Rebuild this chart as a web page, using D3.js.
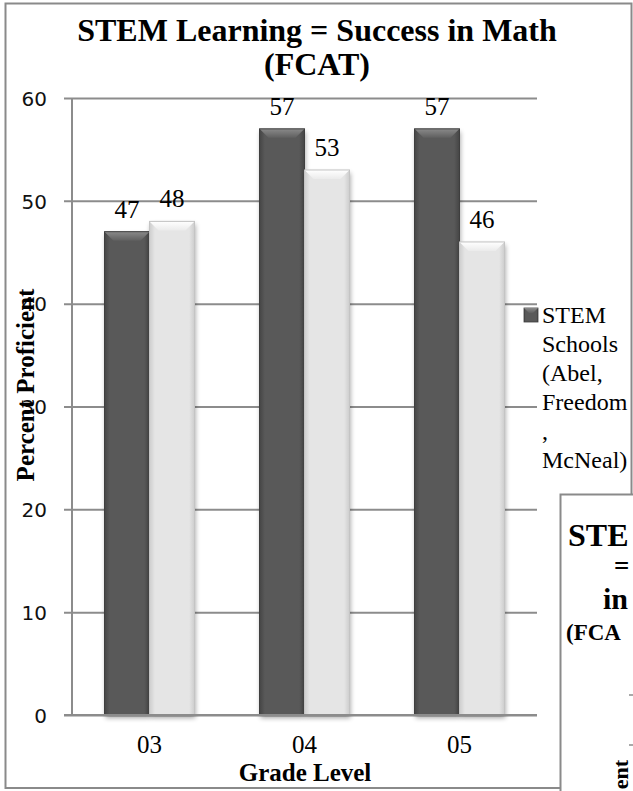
<!DOCTYPE html>
<html>
<head>
<meta charset="utf-8">
<script src="https://cdn.jsdelivr.net/npm/d3@7/dist/d3.min.js"></script>
<style>
  html, body { margin: 0; padding: 0; background: #fff; }
  svg { display: block; }
</style>
</head>
<body>
<div id="chart"></div>
<script>
// Grade-level math proficiency (FCAT), percent proficient
const categories = ["03", "04", "05"];
const seriesNames = ["STEM Schools (Abel, Freedom, McNeal)", "Comparison"];
const stemSchools = [47, 57, 57];
const otherSchools = [48, 53, 46];
const yTicks = [0, 10, 20, 30, 40, 50, 60];
const titleLines = ["STEM Learning = Success in Math", "(FCAT)"];
const xTitle = "Grade Level";
const yTitle = "Percent Proficient";
const legendLines = ["STEM", "Schools", "(Abel,", "Freedom", ",", "McNeal)"];
// the companion chart in the lower-right corner only shows these pieces
const sideTitlePieces = ["STE", "=", "in", "(FCA"];
const sideAxisPiece = "ent";

const SERIF = '"Liberation Serif", "Times New Roman", serif';
const SANS = '"DejaVu Sans", sans-serif';

const W = 633, H = 791;
const svg = d3.select("#chart").append("svg")
  .attr("width", W).attr("height", H);

const defs = svg.append("defs");

// horizontal shading across each bar face
function hGrad(id, edge, mid) {
  const g = defs.append("linearGradient").attr("id", id)
    .attr("x1", "0%").attr("x2", "100%").attr("y1", "0%").attr("y2", "0%");
  g.append("stop").attr("offset", "0%").attr("stop-color", edge);
  g.append("stop").attr("offset", "12%").attr("stop-color", mid);
  g.append("stop").attr("offset", "88%").attr("stop-color", mid);
  g.append("stop").attr("offset", "100%").attr("stop-color", edge);
}
function vGrad(id, top, bottom) {
  const g = defs.append("linearGradient").attr("id", id)
    .attr("x1", "0%").attr("x2", "0%").attr("y1", "0%").attr("y2", "100%");
  g.append("stop").attr("offset", "0%").attr("stop-color", top);
  g.append("stop").attr("offset", "100%").attr("stop-color", bottom);
}
hGrad("darkFace", "#454545", "#595959");
hGrad("lightFace", "#cdcdcd", "#e5e5e5");
vGrad("darkTop", "#8a8a8a", "#5f5f5f");
vGrad("lightTop", "#ffffff", "#ebebeb");

const shadow = defs.append("filter").attr("id", "barShadow")
  .attr("x", "-30%").attr("y", "-10%").attr("width", "160%").attr("height", "130%");
shadow.append("feGaussianBlur").attr("in", "SourceAlpha").attr("stdDeviation", 2.5);
shadow.append("feOffset").attr("dx", 1).attr("dy", 3).attr("result", "off");
shadow.append("feComponentTransfer").append("feFuncA").attr("type", "linear").attr("slope", 0.35);

// outer chart frame
svg.append("rect")
  .attr("x", 5.5).attr("y", 3.5).attr("width", 626).attr("height", 784.5)
  .attr("fill", "#fff").attr("stroke", "#8a8a8a").attr("stroke-width", 2);

// title
svg.append("g").selectAll("text").data(titleLines).join("text")
  .style("font-family", SERIF)
  .attr("x", 317).attr("y", (d, i) => 41 + i * 34)
  .attr("text-anchor", "middle")
  .attr("font-size", 32).attr("font-weight", "bold")
  .text(d => d);

// scales
const plot = { left: 72, right: 537, top: 98, bottom: 715 };
const x0 = d3.scaleBand().domain(categories).range([plot.left, plot.right]);
const x1 = d3.scaleBand().domain(seriesNames)
  .range([x0.bandwidth() / 2 - 45, x0.bandwidth() / 2 + 45]);
const y = d3.scaleLinear().domain([0, 60]).range([plot.bottom, plot.top]);

// gridlines + y axis
const yAxis = d3.axisLeft(y).tickValues(yTicks)
  .tickSize(-(plot.right - plot.left)).tickPadding(0).tickFormat(d3.format("d"));
const gy = svg.append("g").attr("transform", `translate(${plot.left},0)`).call(yAxis);
gy.select(".domain").remove();
gy.selectAll(".tick line")
  .attr("x1", -8)
  .attr("stroke", "#8c8c8c").attr("stroke-width", 2);
gy.selectAll(".tick text")
  .style("font-family", SANS).attr("x", -25)
  .attr("font-size", 20).attr("fill", "#111").attr("dy", "0.36em")
  .attr("text-anchor", "end");
svg.append("line")
  .attr("x1", plot.left).attr("x2", plot.left)
  .attr("y1", y(60)).attr("y2", y(0))
  .attr("stroke", "#8c8c8c").attr("stroke-width", 2);

// bars
const rows = categories.map((c, i) => ({
  cat: c,
  vals: [
    { s: seriesNames[0], v: stemSchools[i], dark: true },
    { s: seriesNames[1], v: otherSchools[i], dark: false }
  ]
}));

const groups = svg.append("g").selectAll("g").data(rows).join("g")
  .attr("transform", d => `translate(${x0(d.cat)},0)`);

const bars = groups.selectAll("g").data(d => d.vals).join("g");
const bw = x1.bandwidth();
const bev = 9;

bars.append("rect")
  .attr("x", d => x1(d.s)).attr("y", d => y(d.v))
  .attr("width", bw).attr("height", d => y(0) - y(d.v))
  .attr("fill", "#000").attr("filter", "url(#barShadow)");
bars.append("rect")
  .attr("x", d => x1(d.s)).attr("y", d => y(d.v))
  .attr("width", bw).attr("height", d => y(0) - y(d.v))
  .attr("fill", d => d.dark ? "url(#darkFace)" : "url(#lightFace)");
bars.append("path")
  .attr("d", d => {
    const xl = x1(d.s), xr = xl + bw, t = y(d.v);
    return `M${xl},${t}L${xr},${t}L${xr - bev},${t + bev}L${xl + bev},${t + bev}Z`;
  })
  .attr("fill", d => d.dark ? "url(#darkTop)" : "url(#lightTop)");
bars.append("rect")
  .attr("x", d => x1(d.s)).attr("y", d => y(d.v))
  .attr("width", bw).attr("height", d => y(0) - y(d.v))
  .attr("fill", "none")
  .attr("stroke", d => d.dark ? "#3e3e3e" : "#c4c4c4").attr("stroke-width", 1);

// value labels
bars.append("text")
  .style("font-family", SERIF)
  .attr("x", d => x1(d.s) + bw / 2)
  .attr("y", d => y(d.v) - 14)
  .attr("text-anchor", "middle").attr("font-size", 25)
  .text(d => d3.format("d")(d.v));

// baseline
svg.append("line")
  .attr("x1", plot.left - 8).attr("x2", plot.right)
  .attr("y1", y(0)).attr("y2", y(0))
  .attr("stroke", "#8c8c8c").attr("stroke-width", 2);

// category labels
svg.append("g").selectAll("text").data(categories).join("text")
  .style("font-family", SERIF)
  .attr("x", d => x0(d) + x0.bandwidth() / 2)
  .attr("y", 753)
  .attr("text-anchor", "middle").attr("font-size", 25)
  .text(d => d);

// axis titles
svg.append("text").style("font-family", SERIF)
  .attr("x", 305).attr("y", 781)
  .attr("text-anchor", "middle").attr("font-size", 25).attr("font-weight", "bold")
  .text(xTitle);
svg.append("text").style("font-family", SERIF)
  .attr("transform", "translate(34,385) rotate(-90)")
  .attr("text-anchor", "middle").attr("font-size", 25).attr("font-weight", "bold")
  .text(yTitle);

// legend
const lg = svg.append("g");
lg.append("rect").attr("x", 524).attr("y", 308).attr("width", 14).attr("height", 14)
  .attr("fill", "url(#darkFace)").attr("stroke", "#3e3e3e").attr("stroke-width", 0.8);
lg.append("path").attr("d", "M524,308L538,308L533,313L529,313Z").attr("fill", "url(#darkTop)");
lg.selectAll("text").data(legendLines).join("text")
  .style("font-family", SERIF)
  .attr("x", 542).attr("y", (d, i) => 323 + i * 29)
  .attr("font-size", 24)
  .text(d => d);

// companion chart frame overlapping the lower right corner
const clip = defs.append("clipPath").attr("id", "pageClip");
clip.append("rect").attr("x", 0).attr("y", 0).attr("width", W).attr("height", H);
const c2 = svg.append("g").attr("clip-path", "url(#pageClip)");
c2.append("rect")
  .attr("x", 560.5).attr("y", 494.5).attr("width", 300).attr("height", 400)
  .attr("fill", "#fff").attr("stroke", "#8a8a8a").attr("stroke-width", 2);
const c2Pos = [
  { x: 568, y: 546, s: 32 },
  { x: 614, y: 575, s: 27 },
  { x: 603, y: 609, s: 30 },
  { x: 566, y: 640, s: 23 }
];
c2.selectAll("text.t2").data(sideTitlePieces).join("text")
  .attr("class", "t2")
  .style("font-family", SERIF)
  .attr("x", (d, i) => c2Pos[i].x).attr("y", (d, i) => c2Pos[i].y)
  .attr("font-size", (d, i) => c2Pos[i].s).attr("font-weight", "bold")
  .text(d => d);
c2.selectAll("line.tk").data([695, 745]).join("line")
  .attr("class", "tk")
  .attr("x1", 629).attr("x2", 633).attr("y1", d => d).attr("y2", d => d)
  .attr("stroke", "#8c8c8c").attr("stroke-width", 1.5);
c2.append("text").style("font-family", SERIF)
  .attr("transform", "translate(628,760) rotate(-90)")
  .attr("text-anchor", "end").attr("font-size", 22).attr("font-weight", "bold")
  .text(sideAxisPiece);
</script>
</body>
</html>
